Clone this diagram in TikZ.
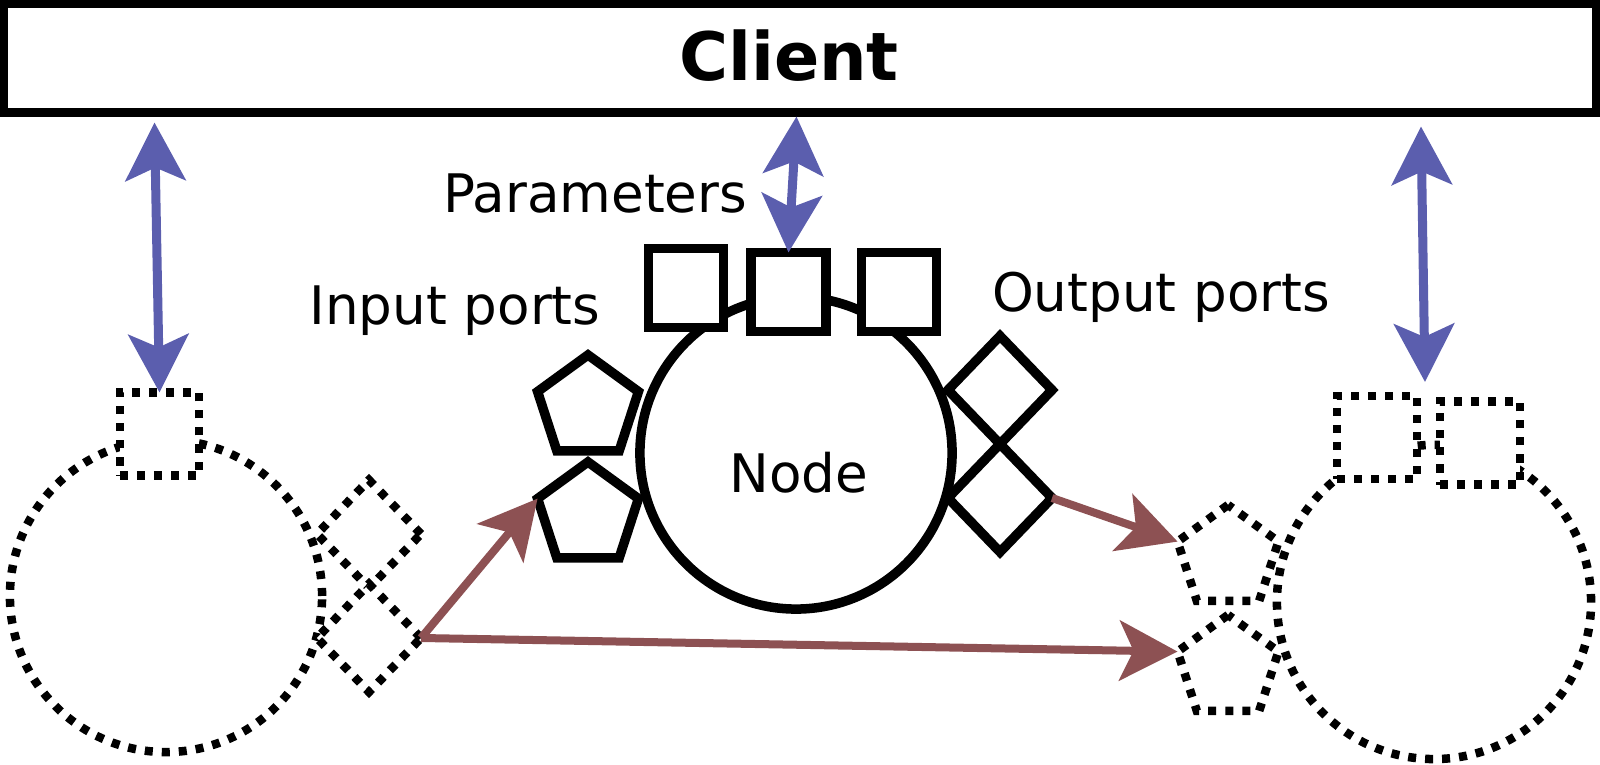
\documentclass[tikz,border=0pt]{standalone}
\usepackage{fontspec}
\setmainfont{DejaVu Sans}
\usepackage{tikz}
\usetikzlibrary{arrows.meta,shapes.geometric,calc}
\definecolor{api}{HTML}{5B5EAE}
\definecolor{wire}{HTML}{8D5153}
\tikzset{
  port/.style     ={draw,line width=0.095cm,fill=white,inner sep=0pt,outer sep=0pt},
  parbox/.style   ={port,rectangle,minimum width=0.75cm,minimum height=0.79cm},
  inport/.style   ={port,regular polygon,regular polygon sides=5,minimum size=1.06cm},
  outport/.style  ={port,diamond,minimum width=1.04cm,minimum height=1.08cm},
  ghost/.style    ={line width=0.085cm,dash pattern=on 0.08cm off 0.09cm},
  clientbox/.style={draw,line width=0.09cm,minimum width=15.92cm,minimum height=1.085cm,
                    inner sep=0pt,outer sep=0pt},
  lbl/.style      ={font=\fontsize{15.1}{18}\selectfont,inner sep=0pt,anchor=base},
  flow/.style     ={-{Stealth[length=5.8mm,width=6mm,inset=1.4mm]},line width=0.08cm,draw=wire},
  call/.style     ={{Stealth[length=5.8mm,width=6mm,inset=1.3mm]}-{Stealth[length=5.8mm,width=6mm,inset=1.3mm]},
                    line width=0.09cm,draw=api}
}
\begin{document}
\begin{tikzpicture}[x=0.01cm,y=-0.01cm]
  \useasboundingbox (0,0) rectangle (1600,765);
  % client bar
  \node[clientbox] (client) at (800,58.25) {};
  \node[lbl,font=\fontsize{19}{22}\selectfont\bfseries] (clientname) at (789,81) {Client};
  % node in the middle
  \node[port,circle,minimum size=3.12cm] (node) at (796,453) {};
  \node[lbl] (nodename) at (799,493) {Node};
  \node[parbox] (parA) at (686,288) {};
  \node[parbox] (parB) at (788.5,292) {};
  \node[parbox] (parC) at (899,292) {};
  \node[inport] (inA) at (588,408) {};
  \node[inport] (inB) at (588,515) {};
  \node[outport] (outA) at (1000,390) {};
  \node[outport] (outB) at (1000,498) {};
  \node[lbl] (parname) at (595,213) {Parameters};
  \node[lbl] (inname) at (455,325) {Input ports};
  \node[lbl] (outname) at (1161,312) {Output ports};
  % upstream node (dotted)
  \node[port,ghost,circle,minimum size=3.12cm] (src) at (166,596) {};
  \node[port,ghost,minimum width=0.79cm,minimum height=0.83cm] (srcpar) at (159.5,434) {};
  \node[outport,ghost] (srcoutA) at (369,534) {};
  \node[outport,ghost] (srcoutB) at (369,638) {};
  % downstream node (dotted)
  \node[port,ghost,circle,minimum size=3.14cm] (dst) at (1434,602) {};
  \node[port,ghost,minimum width=0.8cm,minimum height=0.83cm] (dstparA) at (1377,437.5) {};
  \node[port,ghost,minimum width=0.8cm,minimum height=0.83cm] (dstparB) at (1480,443) {};
  \node[inport,ghost] (dstinA) at (1228,558) {};
  \node[inport,ghost] (dstinB) at (1228,668) {};
  \coordinate (rtip) at (1425,382);
  % data flow
  \draw[flow] (srcoutB.east) -- (inB.corner 2);
  \draw[flow] (srcoutB.east) -- (dstinB.corner 2);
  \draw[flow] (outB.east) -- (dstinA.corner 2);
  % client calls
  \draw[call] ($(srcpar.north |- client.south)+(-5,10)$) -- (srcpar.north);
  \draw[call] ($(parB.north |- client.south)+(8,4)$) -- (parB.north);
  \draw[call] ($(rtip |- client.south)+(-4,14)$) -- (rtip);
\end{tikzpicture}
\end{document}
